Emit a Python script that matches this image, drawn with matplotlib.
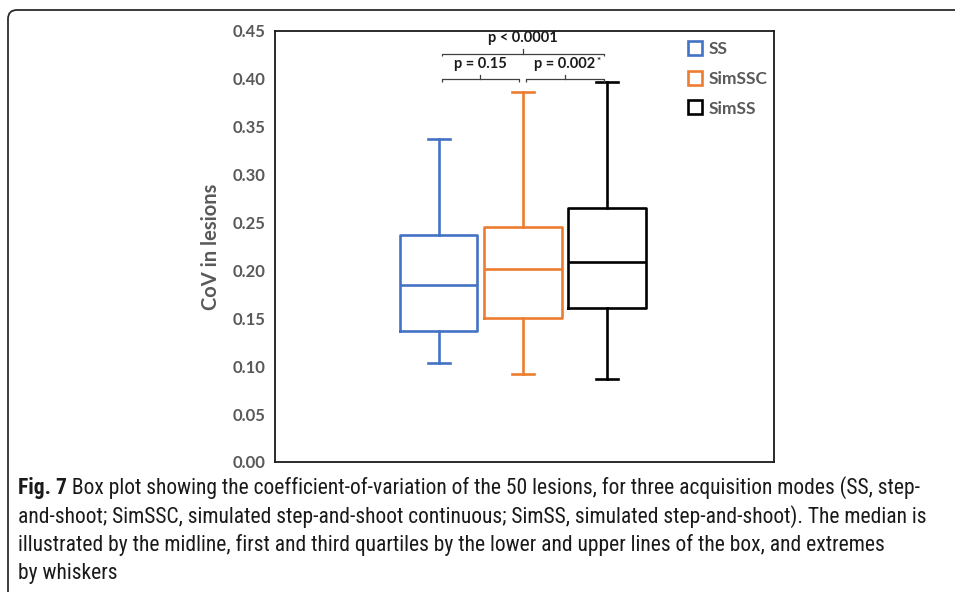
import matplotlib
matplotlib.use("Agg")
import matplotlib.pyplot as plt
from matplotlib import font_manager
from matplotlib.path import Path
from matplotlib.patches import PathPatch
from matplotlib.lines import Line2D
import numpy as np

# ---------------- data ----------------
modes = ["SS", "SimSSC", "SimSS"]
whisker_low = [0.103, 0.092, 0.087]
q1 = [0.137, 0.150, 0.161]
median = [0.185, 0.201, 0.209]
q3 = [0.237, 0.245, 0.265]
whisker_high = [0.337, 0.386, 0.397]
colors = ["#4472C4", "#ED7D31", "#000000"]
y_ticks = [0.00, 0.05, 0.10, 0.15, 0.20, 0.25, 0.30, 0.35, 0.40, 0.45]

# comparisons: (left box, right box, label, level)
comparisons = [
    (1, 2, "p = 0.15", 0),
    (2, 3, "p = 0.002", 0),
    (1, 3, "p < 0.0001", 1),
]
caption_lines = [
    " Box plot showing the coefficient-of-variation of the 50 lesions, for three acquisition modes (SS, step-",
    "and-shoot; SimSSC, simulated step-and-shoot continuous; SimSS, simulated step-and-shoot). The median is",
    "illustrated by the midline, first and third quartiles by the lower and upper lines of the box, and extremes",
    "by whiskers",
]

# ---------------- fonts ----------------
avail = {f.name for f in font_manager.fontManager.ttflist}
main_font = "Lato" if "Lato" in avail else "DejaVu Sans"
cap_font = None
for cand in ["Liberation Sans Narrow", "DejaVu Sans Condensed", "Roboto Condensed", "Open Sans Condensed", "Noto Sans"]:
    if cand in avail:
        cap_font = cand
        break
if cap_font is None:
    cap_font = "DejaVu Sans"

W, H = 955, 592
fig = plt.figure(figsize=(W / 100, H / 100), dpi=100)
ax = fig.add_axes([275 / W, 1 - 462 / H, (774 - 275) / W, (462 - 31) / H])

stats = []
for i, m in enumerate(modes):
    stats.append(dict(label=m, whislo=whisker_low[i], q1=q1[i], med=median[i],
                      q3=q3[i], whishi=whisker_high[i], fliers=[]))

positions = [1, 2, 3]
for i, s in enumerate(stats):
    c = colors[i]
    ax.bxp([s], positions=[positions[i]], widths=0.917, capwidths=0.27,
           showfliers=False, patch_artist=False, manage_ticks=False,
           boxprops=dict(color=c, linewidth=1.9),
           whiskerprops=dict(color=c, linewidth=1.9),
           capprops=dict(color=c, linewidth=1.9),
           medianprops=dict(color=c, linewidth=1.9))

ax.set_xlim(-0.952, 4.988)
ax.set_ylim(0, 0.45)
ax.set_xticks([])
ax.set_yticks(y_ticks)
ax.set_yticklabels([f"{t:.2f}" for t in y_ticks])
ax.tick_params(axis="y", length=0, pad=6.5, labelsize=12, labelcolor="#595959")
for lab in ax.get_yticklabels():
    lab.set_fontweight("bold")
    lab.set_fontfamily(main_font)
for sp in ax.spines.values():
    sp.set_linewidth(1.3)
    sp.set_color("#1a1a1a")

ax.set_ylabel("CoV in lesions", fontsize=14.5, fontweight="bold", color="#595959",
              fontfamily=main_font, labelpad=9)

# brackets
bracket_y = [0.400, 0.4265]
text_y = [0.416, 0.443]
hook = 0.003
tick_up = 0.0045
for (a, b, lab, lvl) in comparisons:
    y = bracket_y[lvl]
    if lvl == 0:
        x0 = a + 0.036 if a == 1 else a + 0.04
        x1 = b - 0.05 if b == 2 else b - 0.04
    else:
        x0, x1 = a + 0.036, b - 0.04
    xm = (x0 + x1) / 2
    ax.plot([x0, x0, x1, x1], [y - hook, y, y, y - hook], color="#404040", lw=0.9,
            solid_capstyle="butt", clip_on=False)
    ax.plot([xm, xm], [y, y + tick_up], color="#404040", lw=0.9, clip_on=False)
    t = ax.text(xm, text_y[lvl], lab, ha="center", va="center", fontsize=10.5,
                fontweight="bold", color="#1a1a1a", fontfamily=main_font)
    if lab == "p = 0.002":
        ax.annotate("*", xy=(1, 1), xycoords=t, xytext=(0.8, -0.5), textcoords="offset points",
                    ha="left", va="top", fontsize=7, fontweight="bold", color="#1a1a1a",
                    fontfamily=main_font)

# legend
handles = [Line2D([], [], linestyle="none", marker="s", markersize=10.5,
                  markerfacecolor="white", markeredgecolor=c, markeredgewidth=1.9)
           for c in colors]
leg = ax.legend(handles, modes, loc="upper left", bbox_to_anchor=(0.796, 1.012),
                frameon=False, handlelength=0.8, handletextpad=0.42, labelspacing=0.78,
                prop=dict(family=main_font, weight="bold", size=12.5))
for txt in leg.get_texts():
    txt.set_color("#595959")

# frame (rounded corner at top-left, open at right and bottom)
r = 9
pts_px = [(W + 5, 10), (8 + r, 10), (8, 10), (8, 10 + r), (8, H + 5)]
verts = [(x / W, 1 - y / H) for x, y in pts_px]
codes = [Path.MOVETO, Path.LINETO, Path.CURVE3, Path.CURVE3, Path.LINETO]
fig.add_artist(PathPatch(Path(verts, codes), transform=fig.transFigure, fill=False,
                         edgecolor="#2b2b2b", linewidth=1.3, clip_on=False))

# caption
renderer = fig.canvas.get_renderer()
x0 = 18 / W
line_y = [488, 517, 545, 574]
cap_size = 14.0
target = 940 - 18
for _ in range(3):
    tb = fig.text(x0, 0.5, "Fig. 7", fontsize=cap_size, fontweight="bold", fontfamily=cap_font)
    tr = fig.text(x0, 0.5, caption_lines[0], fontsize=cap_size, fontfamily=cap_font)
    wtot = tb.get_window_extent(renderer).width + tr.get_window_extent(renderer).width
    tb.remove(); tr.remove()
    cap_size *= target / wtot
cap_size = min(cap_size, 15.5)

tb = fig.text(x0, 1 - line_y[0] / H, "Fig. 7", fontsize=cap_size, fontweight="bold",
              fontfamily=cap_font, va="center", ha="left", color="#1a1a1a")
wb = tb.get_window_extent(renderer).width
fig.text(x0 + wb / W, 1 - line_y[0] / H, caption_lines[0], fontsize=cap_size,
         fontfamily=cap_font, va="center", ha="left", color="#1a1a1a")
for ln, yy in zip(caption_lines[1:], line_y[1:]):
    fig.text(x0, 1 - yy / H, ln, fontsize=cap_size, fontfamily=cap_font,
             va="center", ha="left", color="#1a1a1a")

fig.savefig("out.png", dpi=100)
